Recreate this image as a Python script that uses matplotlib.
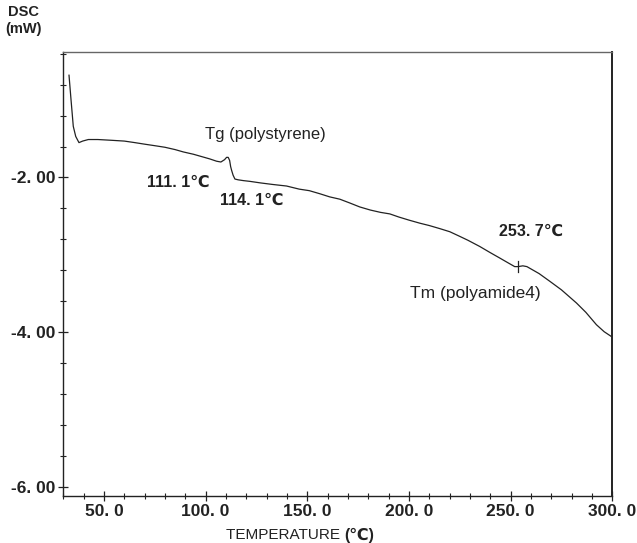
import matplotlib
matplotlib.use("Agg")
import matplotlib.pyplot as plt
from matplotlib.ticker import FuncFormatter, MultipleLocator

# DSC trace (temperature in degC, heat flow in mW)
temp = [32.8, 33.8, 34.9, 36.1, 37.7, 39.5, 42.3, 47.0, 53.8, 60.0, 65.2,
        70.0, 75.1, 80.0, 85.0, 89.0, 94.0, 98.0, 102.0, 105.4, 107.5,
        109.3, 110.3, 111.1, 111.8, 112.3, 112.8, 113.5, 114.4, 116.0,
        118.5, 121.8, 127.0, 133.0, 139.8, 146.0, 151.0, 156.2, 161.0,
        166.0, 171.0, 175.8, 181.0, 186.0, 190.6, 195.0, 200.0, 205.4,
        210.0, 215.2, 220.1, 225.0, 229.0, 234.8, 240.0, 244.7, 248.0,
        250.0, 252.0, 253.7, 256.0, 258.0, 260.0, 264.0, 269.3, 275.0,
        282.4, 287.0, 292.2, 296.0, 300.0]
dsc = [-0.68, -1.00, -1.34, -1.47, -1.55, -1.53, -1.51, -1.51, -1.52, -1.53,
       -1.55, -1.57, -1.59, -1.61, -1.64, -1.67, -1.70, -1.73, -1.76, -1.79,
       -1.80, -1.77, -1.74, -1.74, -1.78, -1.86, -1.91, -1.97, -2.02, -2.03,
       -2.04, -2.05, -2.07, -2.09, -2.11, -2.15, -2.17, -2.21, -2.25,
       -2.28, -2.33, -2.38, -2.42, -2.45, -2.47, -2.51, -2.55, -2.59,
       -2.62, -2.66, -2.70, -2.76, -2.81, -2.89, -2.97, -3.04, -3.09,
       -3.12, -3.15, -3.15, -3.14, -3.15, -3.18, -3.24, -3.34, -3.45,
       -3.62, -3.74, -3.90, -3.99, -4.06]

tm_onset = 253.7
tm_value = -3.15

annotations = [
    ("Tg (polystyrene)", 129.2, -1.44, "normal", 12),
    ("111. 1\u2103", 86.5, -2.06, "bold", 11.5),
    ("114. 1\u2103", 122.8, -2.29, "bold", 11.5),
    ("253. 7\u2103", 259.9, -2.70, "bold", 11.5),
    ("Tm (polyamide4)", 232.4, -3.50, "normal", 12.5),
]

fams = ["Liberation Sans", "DejaVu Sans"]
plt.rcParams["font.family"] = fams

fig = plt.figure(figsize=(6.37, 5.43), dpi=100)
ax = fig.add_axes([0.0994, 0.0866, 0.8618, 0.8177])

ink = "#222222"
ax.plot(temp, dsc, color=ink, lw=0.9)
ax.plot([tm_onset, tm_onset], [tm_value - 0.07, tm_value + 0.07],
        color=ink, lw=0.9)

ax.set_xlim(30, 300)
ax.set_ylim(-6.11, -0.38)

ax.xaxis.set_major_locator(MultipleLocator(50))
ax.xaxis.set_minor_locator(MultipleLocator(10))
ax.yaxis.set_major_locator(MultipleLocator(2))
ax.yaxis.set_minor_locator(MultipleLocator(0.4))
ax.xaxis.set_major_formatter(FuncFormatter(lambda v, p: f"{v:.1f}".replace(".", ". ")))
ax.yaxis.set_major_formatter(FuncFormatter(lambda v, p: f"{v:.2f}".replace(".", ". ")))

ax.tick_params(which="major", direction="inout", length=7, width=0.9,
               colors=ink, labelsize=12.5, pad=2)
ax.tick_params(which="minor", direction="inout", length=4, width=0.8,
               colors=ink)
for lab in ax.get_xticklabels() + ax.get_yticklabels():
    lab.set_fontweight("bold")

for side in ["left", "bottom", "right", "top"]:
    ax.spines[side].set_color(ink)
    ax.spines[side].set_linewidth(1.0)
ax.spines["top"].set_color("#666666")
ax.spines["right"].set_linewidth(1.4)

for txt, x, y, wt, fs in annotations:
    ax.text(x, y, txt, ha="center", va="center", fontsize=fs,
            fontweight=wt, color=ink)

fig.text(24 / 637, 1 - 12 / 543, "DSC", ha="center", va="center",
         fontsize=10.5, fontweight="bold", color=ink)
fig.text(24 / 637, 1 - 29 / 543, "(mW)", ha="center", va="center",
         fontsize=10.5, fontweight="bold", color=ink)

fig.text(344 / 637, 1 - 535 / 543, "TEMPERATURE ", ha="right", va="center",
         fontsize=11, color=ink)
fig.text(344 / 637, 1 - 535 / 543, "(\u2103)", ha="left", va="center",
         fontsize=11.5, fontweight="bold", color=ink)

fig.savefig("out.png", dpi=100, facecolor="white")
